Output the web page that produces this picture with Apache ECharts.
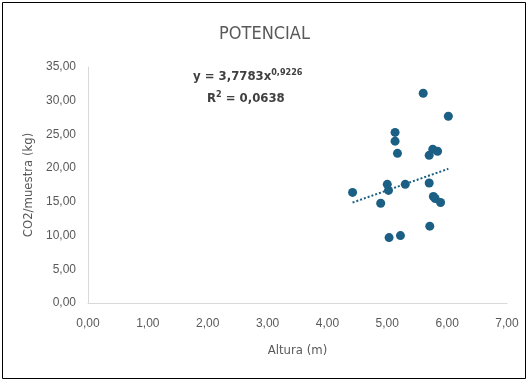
<!DOCTYPE html>
<html><head><meta charset="utf-8">
<script src="https://cdn.jsdelivr.net/npm/echarts@6/dist/echarts.min.js"></script>
<style>html,body{margin:0;padding:0;background:#fff}#c{width:529px;height:382px}</style>
</head><body><div id="c"></div>
<script>
var alturas = [5.60, 6.02, 5.13, 5.13, 5.17, 5.76, 5.84, 5.70, 4.42, 5.00, 5.02, 5.30, 5.70, 4.89, 5.77, 5.80, 5.89, 5.71, 5.03, 5.22];
var co2 = [31.1, 27.7, 25.3, 24.0, 22.2, 22.8, 22.5, 21.9, 16.4, 17.6, 16.7, 17.6, 17.8, 14.8, 15.8, 15.5, 14.9, 11.4, 9.7, 10.0];
var trendX = [4.42, 6.02];
var trendY = [14.9, 19.9];
var xTicks = [0, 1, 2, 3, 4, 5, 6, 7];
var yTicks = [0, 5, 10, 15, 20, 25, 30, 35];
var titleText = 'POTENCIAL';
var xName = 'Altura (m)';
var yName = 'CO2/muestra (kg)';

var pts = alturas.map(function(x, i){ return [x, co2[i]]; });
var trend = trendX.map(function(x, i){ return [x, trendY[i]]; });
var fmt = function(v){ return v.toFixed(2).replace('.', ','); };
var col = '#1b5f84';
var cond = '"DejaVu Sans Condensed", "Liberation Sans", sans-serif';
var chart = echarts.init(document.getElementById('c'));
chart.setOption({
  animation: false,
  textStyle: {fontFamily: '"Liberation Sans", sans-serif'},
  title: {text: titleText, left: 'center', top: 20, textStyle: {fontSize: 18, fontWeight: 'normal', color: '#595959', fontFamily: cond}},
  grid: {left: 88, right: 22, top: 67, bottom: 79},
  xAxis: {type: 'value', min: xTicks[0], max: xTicks[xTicks.length-1], interval: 1,
    name: xName, nameLocation: 'middle', nameGap: 41,
    nameTextStyle: {fontSize: 13, color: '#595959', fontFamily: cond},
    axisLine: {lineStyle: {color: '#d9d9d9'}}, axisTick: {show: false}, splitLine: {show: false},
    axisLabel: {formatter: fmt, fontSize: 12, color: '#595959', margin: 15}},
  yAxis: {type: 'value', min: yTicks[0], max: yTicks[yTicks.length-1], interval: 5,
    name: yName, nameLocation: 'middle', nameGap: 50,
    nameTextStyle: {fontSize: 13, color: '#595959', fontFamily: cond},
    axisLine: {show: true, lineStyle: {color: '#d9d9d9'}}, axisTick: {show: false}, splitLine: {show: false},
    axisLabel: {formatter: fmt, fontSize: 12, color: '#595959', margin: 12}},
  graphic: [
    {type: 'rect', shape: {x: 2.5, y: 2.5, width: 523, height: 376}, style: {fill: 'none', stroke: '#000', lineWidth: 1}, silent: true, z: 100},
    {type: 'text', left: 193, top: 68, style: {rich: {
        b: {fontSize: 13, fontWeight: 'bold', fill: '#404040', fontFamily: cond},
        s: {fontSize: 9, fontWeight: 'bold', fill: '#404040', fontFamily: cond, padding: [0,0,8,0]}
      }, text: '{b|y = 3,7783x}{s|0,9226}'}},
    {type: 'text', left: 207, top: 90, style: {rich: {
        b: {fontSize: 13, fontWeight: 'bold', fill: '#404040', fontFamily: cond},
        s: {fontSize: 9, fontWeight: 'bold', fill: '#404040', fontFamily: cond, padding: [0,0,8,0]}
      }, text: '{b|R}{s|2}{b| = 0,0638}'}}
  ],
  series: [
    {type: 'scatter', data: pts, symbolSize: 9, itemStyle: {color: col, opacity: 1}, z: 3},
    {type: 'line', data: trend, showSymbol: false, symbol: 'none', lineStyle: {color: col, width: 2, type: [2, 2]}, z: 2}
  ]
});
</script></body></html>
